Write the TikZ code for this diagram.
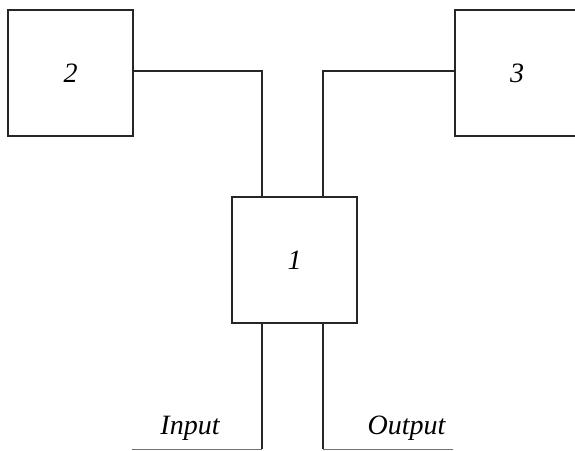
\documentclass[tikz,border=0pt]{standalone}
\usepackage{fontspec}
\setmainfont{Liberation Serif}
\usetikzlibrary{positioning}

\begin{document}
\begin{tikzpicture}[
x=1pt, y=-1pt,
 line width=2pt,
    blk/.style = {rectangle, draw=black!85,% blocks 1, 2, 3
                  minimum width=125pt, minimum height=126pt,
                  outer sep=0pt, inner sep=0pt,
                  font=\fontsize{28}{32}\selectfont\itshape},
    lbl/.style = {anchor=base, inner sep=0pt,
                  font=\fontsize{28}{32}\selectfont\itshape},
    ul/.style  = {line width=0.9pt, draw=black!55},
                        ]
\useasboundingbox (0,0) rectangle (575,450);
\clip (0,0) rectangle (575,450);
\node[blk] (b1) at (294.5,260) {1};
\node[blk] (b2) at (70.5,73)  {2};
\node[blk] (b3) at (517,73)   {3};
\coordinate (inend)   at (262,449);
\coordinate (outend)  at (323,449);
\coordinate (instart) at (132,449);
\coordinate (outstop) at (453,449);
\draw[black!85] ([yshift=2pt]b2.east) -| (b1.north -| inend);
\draw[black!85] ([yshift=2pt]b3.west) -| (b1.north -| outend);
\draw[black!85] (b1.south -| inend)  -- (inend);
\draw[black!85] (b1.south -| outend) -- (outend);
\draw[ul] (instart) -- (inend);
\draw[ul] (outend)  -- (outstop);
\node[lbl] (inlbl)  at (190,434) {Input};
\node[lbl] (outlbl) at (406.5,434) {Output};
\end{tikzpicture}
\end{document}
